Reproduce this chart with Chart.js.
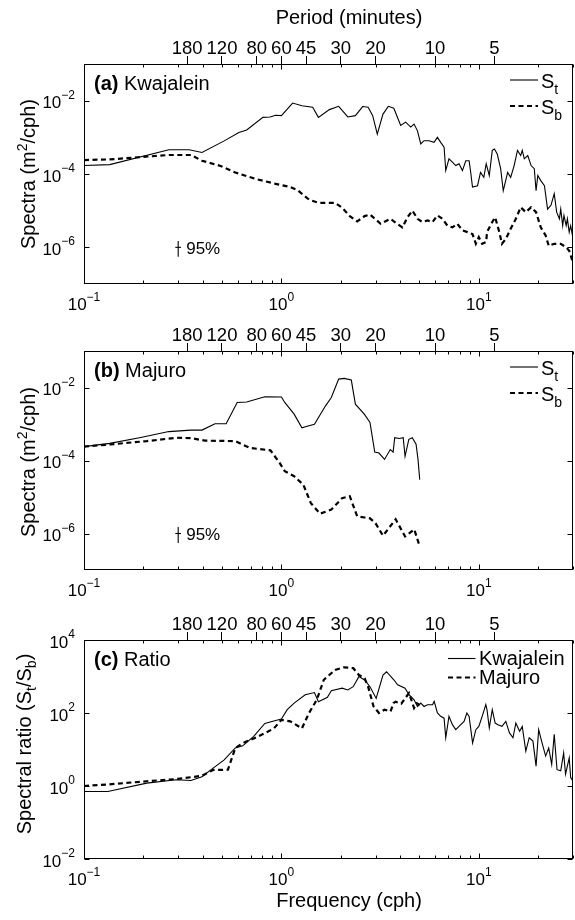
<!DOCTYPE html>
<html><head><meta charset="utf-8">
<script src="https://cdn.jsdelivr.net/npm/chart.js@4/dist/chart.umd.min.js"></script>
<style>
html,body{margin:0;padding:0;background:#fff;}
#wrap{position:relative;width:575px;height:920px;overflow:hidden;background:#fff;}
canvas{position:absolute;left:0;}
</style></head><body>
<div id="wrap">
<canvas id="ca" width="575" height="318" style="top:0px"></canvas>
<canvas id="cb" width="575" height="282" style="top:318px"></canvas>
<canvas id="cc" width="575" height="320" style="top:600px"></canvas>
</div>
<script>
// ---------------- DATA ----------------
const periodTicks = [180, 120, 80, 60, 45, 30, 20, 10, 5];   // minutes (top axis)
const xDecades = [0.1, 1, 10];
const yTicksSpectra = [1e-2, 1e-4, 1e-6];
const yTicksRatio = [1e-2, 1, 1e2, 1e4];

// (a) Kwajalein total spectrum S_t
const freqKwaSt = [0.1,0.135,0.269,0.341,0.396,0.513,0.609,0.667,0.806,0.876,0.935,1.0,1.14,1.27,1.44,1.54,1.75,1.95,2.17,2.37,2.58,2.75,2.90,3.06,3.27,3.48,3.71,4.02,4.26,4.52,4.70,4.89,5.08,5.28,5.60,5.93,6.17,6.41,6.67,6.80,7.06,7.35,7.64,7.94,8.26,8.59,8.93,9.1,9.29,9.85,10.2,10.6,10.9,11.3,11.7,12.0,12.4,12.9,13.3,14.0,14.5,15.1,15.7,16.3,16.6,17.0,17.7,18.4,19.1,19.5,19.9,20.6,21.5,22.3,23.2,24.1,24.8,25.6,26.0,26.6,27.0,27.7,28.1,28.7,29.2,29.8];
const valKwaSt = [1.7e-4,1.8e-4,4.6e-4,4.6e-4,3.85e-4,8.0e-4,1.36e-3,1.58e-3,3.5e-3,3.6e-3,4.0e-3,3.9e-3,8.6e-3,7.3e-3,6.6e-3,3.5e-3,5.7e-3,7.0e-3,3.6e-3,3.9e-3,6.9e-3,6.6e-3,3.9e-3,1.22e-3,4.3e-3,7.0e-3,6.2e-3,2.1e-3,2.6e-3,1.9e-3,2.3e-3,1.5e-3,6.6e-4,8.1e-4,8.1e-4,7.3e-4,1.0e-3,7.3e-4,5.4e-4,1.24e-4,2.6e-4,2.1e-4,1.7e-4,1.9e-4,1.24e-4,2.3e-4,2.3e-4,1.1e-4,4.4e-5,4.8e-5,1.1e-4,8.1e-5,1.9e-4,9.1e-5,4.4e-4,4.8e-4,3.5e-4,1.4e-4,3.5e-5,1.1e-4,8.1e-5,1.7e-4,4.4e-4,3.2e-4,4.4e-4,2.6e-4,3.2e-4,1.7e-4,1.4e-4,3.5e-5,9.1e-5,6.6e-5,4.8e-5,1.1e-5,1.4e-5,2.9e-5,9.1e-6,6.0e-6,1.1e-5,3.9e-6,7.4e-6,3.9e-6,6.0e-6,2.6e-6,3.9e-6,2.1e-6];

// (a) Kwajalein background spectrum S_b
const freqKwaSb = [0.1,0.135,0.195,0.269,0.348,0.396,0.492,0.584,0.756,0.935,1.11,1.21,1.38,1.54,1.87,2.03,2.22,2.42,2.64,2.81,3.0,3.18,3.57,3.86,4.10,4.35,4.61,4.89,5.18,5.5,5.83,6.17,6.54,6.93,7.35,7.78,8.26,8.76,9.29,9.66,10.0,10.4,10.9,11.0,11.7,12.1,12.7,13.1,13.7,14.5,15.4,16.3,17.3,18.4,19.5,20.6,21.8,22.6,24.1,26.0,27.7,28.7,29.9];
const valKwaSb = [2.4e-4,2.5e-4,2.9e-4,3.3e-4,3.3e-4,2.3e-4,1.66e-4,1.1e-4,7.1e-5,5.4e-5,4.4e-5,3.6e-5,2.0e-5,1.64e-5,1.64e-5,1.2e-5,7.1e-6,5.1e-6,7.1e-6,7.9e-6,5.8e-6,4.4e-6,6.0e-6,4.4e-6,3.5e-6,6.6e-6,1.0e-5,6.0e-6,4.9e-6,5.4e-6,4.9e-6,7.4e-6,6.0e-6,3.9e-6,3.5e-6,4.4e-6,2.9e-6,2.6e-6,2.3e-6,1.25e-6,1.9e-6,1.25e-6,1.4e-6,2.6e-6,4.9e-6,6.6e-6,2.6e-6,1.25e-6,1.7e-6,3.2e-6,6.0e-6,1.24e-5,9.1e-6,1.24e-5,9.1e-6,3.5e-6,2.1e-6,1.1e-6,1.25e-6,1.25e-6,1.0e-6,8.1e-7,4.0e-7];

// (b) Majuro total spectrum S_t
const freqMajSt = [0.1,0.135,0.191,0.269,0.348,0.396,0.461,0.525,0.597,0.667,0.824,1.0,1.04,1.16,1.27,1.35,1.47,1.67,1.79,1.95,2.08,2.26,2.37,2.63,2.81,2.97,3.12,3.33,3.56,3.68,3.75,3.96,4.14,4.23,4.42,4.60,4.81,4.92,5.02];
const valMajSt = [2.4e-4,2.95e-4,4.2e-4,6.2e-4,6.8e-4,6.8e-4,1.02e-3,1.02e-3,3.9e-3,4.0e-3,5.6e-3,5.5e-3,3.9e-3,1.86e-3,7.9e-4,8.7e-4,9.8e-4,3.1e-3,5.3e-3,1.7e-2,1.78e-2,1.6e-2,3.5e-3,1.86e-3,1.1e-3,1.7e-4,1.6e-4,1.07e-4,2.0e-4,1.7e-4,4.2e-4,4.0e-4,4.2e-4,1.3e-4,3.8e-4,4.2e-4,2.8e-4,1.07e-4,3.0e-5];

// (b) Majuro background spectrum S_b
const freqMajSb = [0.1,0.135,0.208,0.293,0.348,0.41,0.584,0.694,0.88,0.978,1.04,1.16,1.29,1.41,1.57,1.79,2.03,2.22,2.42,2.64,2.81,3.0,3.27,3.79,4.23,4.71,5.02];
const valMajSb = [2.4e-4,2.75e-4,3.4e-4,4.2e-4,4.1e-4,3.5e-4,3.4e-4,2.2e-4,1.9e-4,8.7e-5,5.1e-5,3.7e-5,2.2e-5,6.8e-6,3.5e-6,4.5e-6,9.3e-6,1.05e-5,2.95e-6,2.75e-6,2.6e-6,1.9e-6,8.7e-7,2.45e-6,8.3e-7,1.3e-6,4.4e-7];

// (c) Spectral ratio S_t/S_b, Kwajalein
const freqKwaRatio = [0.1,0.132,0.208,0.293,0.348,0.396,0.451,0.513,0.584,0.637,0.724,0.824,0.935,1.0,1.07,1.16,1.32,1.47,1.54,1.71,1.79,2.03,2.17,2.31,2.47,2.64,2.81,3.02,3.27,3.41,3.71,3.88,4.23,4.43,4.70,4.89,5.08,5.28,5.5,5.83,5.94,6.17,6.41,6.67,6.80,7.06,7.35,7.64,8.1,8.42,8.7,8.93,9.3,9.66,10.0,10.4,10.85,11.0,11.3,11.7,12.1,12.5,13.1,13.7,14.3,14.9,15.4,16.1,16.6,17.3,18.0,18.8,19.5,20.1,20.8,21.8,22.6,23.4,24.1,24.9,26.0,26.9,27.5,28.7,29.2,29.9];
const valKwaRatio = [0.71,0.71,1.2,1.48,1.41,1.8,3.1,5.2,11,12.6,23,52,62,68,123,186,316,363,204,270,407,479,427,525,993,805,525,251,1096,1349,813,590,480,316,230,151,187,151,169,169,208,100,81,72,21,81,48,35,48,59,100,81,15,35,43,81,169,123,39,123,53,48,43,59,28.5,21,53,31.6,43,9,21,17,3.5,35,17,6.6,11,3.9,26,2.8,2.6,8.1,2.1,5.9,1.7,1.4];

// (c) Spectral ratio S_t/S_b, Majuro
const freqMajRatio = [0.1,0.132,0.208,0.293,0.396,0.451,0.50,0.536,0.584,0.637,0.724,0.824,0.917,1.0,1.11,1.27,1.38,1.51,1.64,1.87,2.07,2.31,2.47,2.64,2.75,2.93,3.12,3.33,3.57,3.70,3.79,4.05,4.23,4.43,4.70,4.85,5.02];
const valMajRatio = [1.0,1.1,1.35,1.55,1.9,2.75,2.75,2.8,11,15,20,28,38,65,59,38,100,229,813,1514,1778,1698,1096,891,525,151,100,123,110,187,204,180,251,351,137,186,166];

// 95% confidence bar (panels a and b)
const ciFreq = [0.3, 0.3];
const ciVal = [1.5e-6, 5.5e-7];
const ciTickFreq = [0.29, 0.31];
const ciTickVal = [1e-6, 1e-6];

// ---------------- DRAWING ----------------
const F = '"Liberation Sans", Arial, Helvetica, sans-serif';
const XMIN = 0.1, XMAX = 30;

function pts(fx, vy){ return fx.map((f,i)=>({x:f, y:vy[i]})); }
function solid(d){ return {data:d, borderColor:'#000', borderWidth:1.1, pointRadius:0, tension:0, fill:false}; }
function dashed(d){ return {data:d, borderColor:'#000', borderWidth:2.2, borderDash:[5,3.5], pointRadius:0, tension:0, fill:false}; }

function richWidth(ctx, segs){ let w=0; for(const s of segs){ ctx.font=s.font; w+=ctx.measureText(s.t).width; } return w; }
function drawRich(ctx, segs, x, y, align, rot){
  ctx.save(); ctx.translate(x,y); if(rot) ctx.rotate(rot);
  ctx.textBaseline='alphabetic'; ctx.textAlign='left'; ctx.fillStyle='#000';
  const w = richWidth(ctx, segs);
  let cx = align==='center' ? -w/2 : (align==='right' ? -w : 0);
  for(const s of segs){ ctx.font=s.font; ctx.fillText(s.t, cx, s.dy||0); cx += ctx.measureText(s.t).width; }
  ctx.restore();
}
function pow10Segs(v, base, sup){
  const e = Math.round(Math.log10(v));
  return [{t:'10', font:base+'px '+F},{t:(e<0?'\u2212'+(-e):String(e)), font:sup+'px '+F, dy:-9.5}];
}

function decor(cfg){
  return { id:'decor', afterDraw(chart){
    const ctx=chart.ctx, a=chart.chartArea, xs=chart.scales.x, ys=chart.scales.y, x2=chart.scales.x2;
    ctx.save();
    ctx.strokeStyle='#000'; ctx.fillStyle='#000'; ctx.lineWidth=1;
    const L=Math.round(a.left)+0.5, R=Math.round(a.right)-0.5, T=Math.round(a.top)+0.5, B=Math.round(a.bottom)-0.5;
    ctx.strokeRect(L,T,R-L,B-T);
    ctx.beginPath();
    for(const d of xDecades){ for(let m=1;m<=9;m++){ const v=m*d; if(v<XMIN*0.999||v>XMAX*1.001) continue;
      const px=Math.round(xs.getPixelForValue(v))+0.5, len=(m===1?5:3);
      ctx.moveTo(px,B); ctx.lineTo(px,B-len); ctx.moveTo(px,T); ctx.lineTo(px,T+len); } }
    for(const v of cfg.yTicks){ const py=Math.round(ys.getPixelForValue(v))+0.5;
      ctx.moveTo(L,py); ctx.lineTo(L+5,py); ctx.moveTo(R,py); ctx.lineTo(R-5,py); }
    ctx.stroke();
    // bottom tick labels
    for(const d of xDecades){ drawRich(ctx, pow10Segs(d,17,12), xs.getPixelForValue(d), a.bottom+26, 'center'); }
    // left tick labels
    for(const v of cfg.yTicks){ drawRich(ctx, pow10Segs(v,17,12), 75, ys.getPixelForValue(v)+7.5, 'right'); }
    // top period labels
    ctx.font='18.5px '+F; ctx.textAlign='center'; ctx.textBaseline='alphabetic';
    for(const p of periodTicks){ ctx.fillText(String(p), x2.getPixelForValue(60/p), a.top-10.5); }
    // panel label
    ctx.textAlign='left';
    ctx.font='bold 20px '+F; ctx.fillText(cfg.tag, 94, a.top+25.5);
    const tw=ctx.measureText(cfg.tag).width;
    ctx.font='20px '+F; ctx.fillText(' '+cfg.name, 94+tw, a.top+25.5);
    // y title
    drawRich(ctx, cfg.ytitle, cfg.ytitleX, cfg.ytitleY, 'center', -Math.PI/2);
    // legend
    for(const it of cfg.legend){
      ctx.beginPath(); ctx.lineWidth=it.dash?2.2:1.1; ctx.setLineDash(it.dash?[5,3.5]:[]);
      ctx.moveTo(it.x0, a.top+it.ly); ctx.lineTo(it.x1, a.top+it.ly); ctx.stroke(); ctx.setLineDash([]);
      drawRich(ctx, it.text, it.tx, a.top+it.ty, 'left');
    }
    if(cfg.ci){ ctx.font='17px '+F; ctx.textAlign='left';
      ctx.fillText('95%', xs.getPixelForValue(0.3)+8, ys.getPixelForValue(1e-6)+6.5); }
    if(cfg.xtitle){ ctx.font='20px '+F; ctx.textAlign='center'; ctx.fillText(cfg.xtitle, 349, a.bottom+48); }
    if(cfg.toptitle){ ctx.font='20px '+F; ctx.textAlign='center'; ctx.fillText(cfg.toptitle, 349, 24); }
    ctx.restore();
  }};
}

function makeChart(id, cfg){
  const ds = cfg.datasets.slice();
  if(cfg.ci){ ds.push(solid(pts(ciFreq,ciVal))); ds.push(solid(pts(ciTickFreq,ciTickVal))); }
  return new Chart(document.getElementById(id), {
    type:'line',
    data:{datasets:ds},
    options:{
      responsive:false, animation:false, devicePixelRatio:1,
      layout:{padding:{left:0,right:2,top:0,bottom:0}},
      plugins:{legend:{display:false}, tooltip:{enabled:false}},
      scales:{
        x:{type:'logarithmic', position:'bottom', min:XMIN, max:XMAX,
           ticks:{display:false}, grid:{display:false}, border:{display:false},
           afterFit:s=>{s.height=cfg.bottomH;}},
        x2:{type:'logarithmic', position:'top', min:XMIN, max:XMAX,
           afterBuildTicks:s=>{s.ticks=periodTicks.map(p=>({value:60/p}));},
           ticks:{display:false},
           grid:{display:true, drawOnChartArea:false, drawTicks:true, tickLength:8, color:'#000', lineWidth:1},
           border:{display:false},
           afterFit:s=>{s.height=cfg.topH;}},
        y:{type:'logarithmic', position:'left', min:cfg.ymin, max:cfg.ymax,
           ticks:{display:false}, grid:{display:false}, border:{display:false},
           afterFit:s=>{s.width=84;}}
      }
    },
    plugins:[decor(cfg)]
  });
}

const f20 = '20px '+F, f14 = '14px '+F;
const specTitle = [{t:'Spectra (m',font:f20},{t:'2',font:f14,dy:-8},{t:'/cph)',font:f20}];
const legendS = [
  {x0:510,x1:538,ly:16,tx:541,ty:23.5,dash:false,text:[{t:'S',font:f20},{t:'t',font:f14,dy:6}]},
  {x0:510,x1:538,ly:42,tx:541,ty:49.5,dash:true,text:[{t:'S',font:f20},{t:'b',font:f14,dy:6}]}
];

makeChart('ca', {topH:64, bottomH:34, ymin:1e-7, ymax:1e-1, yTicks:yTicksSpectra,
  tag:'(a)', name:'Kwajalein', ytitle:specTitle, ytitleX:35, ytitleY:174, legend:legendS, ci:true,
  toptitle:'Period (minutes)',
  datasets:[solid(pts(freqKwaSt,valKwaSt)), dashed(pts(freqKwaSb,valKwaSb))]});

makeChart('cb', {topH:33, bottomH:30, ymin:1e-7, ymax:1e-1, yTicks:yTicksSpectra,
  tag:'(b)', name:'Majuro', ytitle:specTitle, ytitleX:35, ytitleY:144, legend:legendS, ci:true,
  datasets:[solid(pts(freqMajSt,valMajSt)), dashed(pts(freqMajSb,valMajSb))]});

makeChart('cc', {topH:40, bottomH:61, ymin:1e-2, ymax:1e4, yTicks:yTicksRatio,
  tag:'(c)', name:'Ratio',
  ytitle:[{t:'Spectral ratio (S',font:f20},{t:'t',font:f14,dy:5},{t:'/S',font:f20},{t:'b',font:f14,dy:5},{t:')',font:f20}],
  ytitleX:31, ytitleY:144,
  legend:[
    {x0:448,x1:475.5,ly:18.5,tx:479,ty:25,dash:false,text:[{t:'Kwajalein',font:f20}]},
    {x0:448,x1:475.5,ly:37.5,tx:479,ty:43.5,dash:true,text:[{t:'Majuro',font:f20}]}
  ],
  xtitle:'Frequency (cph)',
  datasets:[solid(pts(freqKwaRatio,valKwaRatio)), dashed(pts(freqMajRatio,valMajRatio))]});
</script>
</body></html>
